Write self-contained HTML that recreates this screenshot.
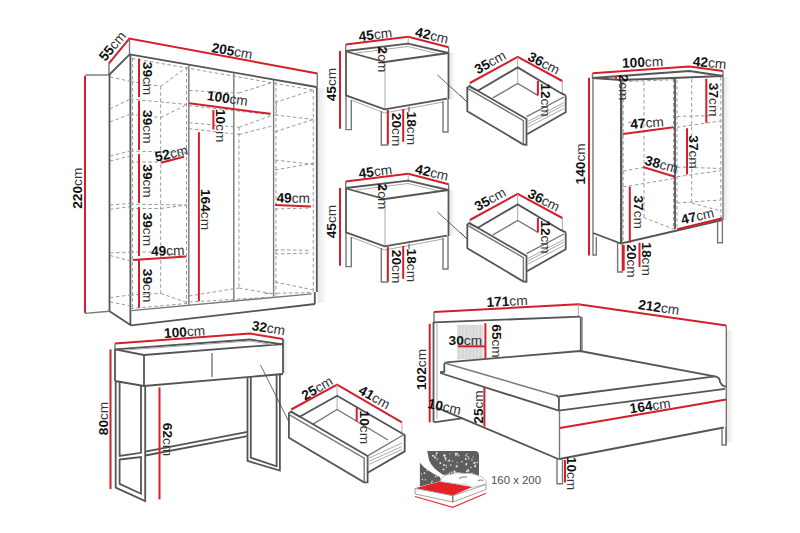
<!DOCTYPE html>
<html><head><meta charset="utf-8"><style>
html,body{margin:0;padding:0;background:#fff;}
svg{display:block;}
text{font-family:"Liberation Sans",sans-serif;fill:#1a1a1a;}
.b{font-weight:bold;fill:#111;}
.u{fill:#333;}
.g{stroke:#777;stroke-width:1.4;fill:none;}
.k{stroke:#555;stroke-width:1.8;fill:none;}
.l{stroke:#aaa;stroke-width:1;fill:none;}
.d{stroke:#9a9a9a;stroke-width:1;fill:none;stroke-dasharray:3.5 2.5;}
.t{stroke:#444;stroke-width:0.8;fill:none;}
.r{stroke:#d41f2b;stroke-width:2;fill:none;}
.r2{stroke:#d41f2b;stroke-width:2.8;fill:none;}
.k2{stroke:#555;stroke-width:2.4;fill:none;}
</style></head><body>
<svg width="800" height="533" viewBox="0 0 800 533">
<defs><linearGradient id="sh" x1="0" y1="0" x2="1" y2="0"><stop offset="0" stop-color="#000" stop-opacity="0.1"/><stop offset="1" stop-color="#000" stop-opacity="0"/></linearGradient></defs>
<rect x="317.5" y="88" width="9" height="215" fill="url(#sh)"/>
<rect x="449.5" y="53" width="6" height="46" fill="url(#sh)"/>
<rect x="449.5" y="190" width="6" height="46" fill="url(#sh)"/>
<rect x="727" y="330" width="7" height="112" fill="url(#sh)"/>
<rect x="723.5" y="77" width="6" height="143" fill="url(#sh)"/>
<rect x="283.5" y="340" width="5" height="34" fill="url(#sh)"/>
<line x1="85" y1="76" x2="85" y2="313" class="r"/>
<line x1="85" y1="75" x2="109" y2="75" class="g"/>
<line x1="85" y1="313.4" x2="109.5" y2="311.3" class="g"/>
<polyline points="109,63.4 129.3,38.5 317.5,73.5" class="r"/>
<line x1="109" y1="63" x2="109" y2="75" class="g"/>
<line x1="129.5" y1="39" x2="129.5" y2="54.4" class="g"/>
<line x1="317.3" y1="73.5" x2="317.3" y2="87" class="g"/>
<line x1="129.7" y1="54.4" x2="316.5" y2="87" class="k"/>
<line x1="109" y1="75" x2="129.7" y2="54.4" class="k"/>
<line x1="109.5" y1="75" x2="109.5" y2="311.3" class="k"/>
<line x1="130.4" y1="54.4" x2="130.4" y2="325.4" class="k"/>
<line x1="316.8" y1="87" x2="316.8" y2="292" class="k"/>
<line x1="109.5" y1="311.3" x2="131.3" y2="325.4" class="k"/>
<line x1="131.3" y1="325.4" x2="315" y2="304" class="k"/>
<line x1="131.5" y1="310.6" x2="311.7" y2="293.9" class="g"/>
<line x1="314.8" y1="292" x2="314.8" y2="304" class="k"/>
<line x1="188.8" y1="65" x2="188.8" y2="305.4" class="g"/>
<line x1="233.8" y1="73" x2="233.8" y2="301.2" class="g"/>
<line x1="273.6" y1="80" x2="273.6" y2="297.5" class="g"/>
<line x1="132" y1="58.4" x2="313" y2="90" class="d"/>
<line x1="132.6" y1="58" x2="132.6" y2="310" class="d"/>
<line x1="160.7" y1="86.3" x2="160.7" y2="294" class="d"/>
<line x1="186.5" y1="67" x2="186.5" y2="304" class="d"/>
<line x1="276" y1="82" x2="276" y2="297" class="d"/>
<line x1="313.3" y1="90" x2="313.3" y2="293" class="d"/>
<line x1="239" y1="127.3" x2="239" y2="289" class="d"/>
<line x1="110" y1="77" x2="130.3" y2="81.3" class="d"/>
<line x1="130.3" y1="81.3" x2="160.7" y2="86.3" class="d"/>
<line x1="160.7" y1="86.3" x2="187" y2="67" class="d"/>
<line x1="110" y1="109" x2="130.3" y2="99" class="d"/>
<line x1="110" y1="122" x2="130.3" y2="114" class="d"/>
<line x1="130.3" y1="99" x2="187" y2="104.5" class="d"/>
<line x1="130.3" y1="114.2" x2="160.7" y2="117.6" class="d"/>
<line x1="160.7" y1="117.6" x2="187" y2="104.5" class="d"/>
<line x1="110" y1="156" x2="130.3" y2="151" class="d"/>
<line x1="110" y1="161" x2="130.3" y2="156" class="d"/>
<line x1="130.3" y1="151" x2="187" y2="152.5" class="d"/>
<line x1="130.3" y1="162" x2="160.7" y2="162" class="d"/>
<line x1="160.7" y1="162" x2="187" y2="153" class="d"/>
<line x1="110" y1="209.3" x2="130.3" y2="206.7" class="d"/>
<line x1="110" y1="205" x2="130.3" y2="203.5" class="d"/>
<line x1="130.3" y1="204.2" x2="187" y2="205" class="d"/>
<line x1="130.3" y1="208.5" x2="160.7" y2="208.5" class="d"/>
<line x1="160.7" y1="208.5" x2="187" y2="205" class="d"/>
<line x1="110" y1="253" x2="130.3" y2="252" class="d"/>
<line x1="110" y1="255.5" x2="130.3" y2="261" class="d"/>
<line x1="130.3" y1="252" x2="160.7" y2="252" class="d"/>
<line x1="160.7" y1="252" x2="187" y2="257" class="d"/>
<line x1="110" y1="297.6" x2="130.3" y2="295" class="d"/>
<line x1="110" y1="301.8" x2="130.3" y2="306" class="d"/>
<line x1="130.3" y1="308.6" x2="187" y2="303.5" class="d"/>
<line x1="130.3" y1="295" x2="160.7" y2="293.4" class="d"/>
<line x1="160.7" y1="293.4" x2="187" y2="302.7" class="d"/>
<line x1="189" y1="90.5" x2="239" y2="93" class="d"/>
<line x1="239" y1="93" x2="272" y2="82.6" class="d"/>
<line x1="189" y1="105.6" x2="272" y2="114.8" class="d"/>
<line x1="189" y1="122.7" x2="239" y2="127.3" class="d"/>
<line x1="239" y1="127.3" x2="272" y2="115.5" class="d"/>
<line x1="189" y1="128.6" x2="239" y2="134.5" class="d"/>
<line x1="239" y1="134.5" x2="272" y2="126" class="d"/>
<line x1="189" y1="296" x2="239" y2="288" class="d"/>
<line x1="239" y1="288" x2="274" y2="294" class="d"/>
<line x1="189" y1="302" x2="274" y2="297" class="d"/>
<line x1="275" y1="102.5" x2="313.4" y2="90.1" class="d"/>
<line x1="275" y1="115" x2="313.4" y2="119.4" class="d"/>
<line x1="275" y1="131.8" x2="313.4" y2="119.4" class="d"/>
<line x1="275" y1="160" x2="313.4" y2="164.5" class="d"/>
<line x1="275" y1="170" x2="313.4" y2="163.3" class="d"/>
<line x1="275" y1="209" x2="311" y2="208" class="d"/>
<line x1="275" y1="249.7" x2="311" y2="250.4" class="d"/>
<line x1="275" y1="254" x2="311" y2="253" class="d"/>
<line x1="275" y1="282" x2="313.4" y2="290" class="d"/>
<line x1="265" y1="293.6" x2="313" y2="292.5" class="d"/>
<line x1="276.3" y1="102.5" x2="276.3" y2="113.8" class="d"/>
<line x1="139" y1="58.5" x2="139" y2="97" class="r"/>
<line x1="139" y1="100.7" x2="139" y2="150" class="r"/>
<line x1="139" y1="154" x2="139" y2="203" class="r"/>
<line x1="139" y1="207" x2="139" y2="256" class="r"/>
<line x1="139" y1="260" x2="139" y2="307.8" class="r"/>
<line x1="161" y1="162.8" x2="184" y2="156.7" class="r"/>
<line x1="133" y1="260" x2="186" y2="256.5" class="r"/>
<line x1="275" y1="205" x2="311" y2="206.5" class="r"/>
<line x1="189.2" y1="103.3" x2="270.6" y2="113.8" class="r"/>
<line x1="213.4" y1="110" x2="213.4" y2="129.6" class="r"/>
<line x1="198.9" y1="132.2" x2="198.9" y2="301.2" class="r"/>
<text transform="translate(112.2,46) rotate(-50)" y="4.93" font-size="13.7" text-anchor="middle"><tspan class="b">55</tspan><tspan class="u">cm</tspan></text>
<text transform="translate(232,50.7) rotate(10)" y="4.93" font-size="13.7" text-anchor="middle"><tspan class="b">205</tspan><tspan class="u">cm</tspan></text>
<text transform="translate(77.2,188.2) rotate(-90)" y="4.93" font-size="13.7" text-anchor="middle"><tspan class="b">220</tspan><tspan class="u">cm</tspan></text>
<text transform="translate(147.6,78.5) rotate(90)" y="4.93" font-size="13.7" text-anchor="middle"><tspan class="b">39</tspan><tspan class="u">cm</tspan></text>
<text transform="translate(147.6,126.8) rotate(90)" y="4.93" font-size="13.7" text-anchor="middle"><tspan class="b">39</tspan><tspan class="u">cm</tspan></text>
<text transform="translate(147.6,181) rotate(90)" y="4.93" font-size="13.7" text-anchor="middle"><tspan class="b">39</tspan><tspan class="u">cm</tspan></text>
<text transform="translate(147.6,229.3) rotate(90)" y="4.93" font-size="13.7" text-anchor="middle"><tspan class="b">39</tspan><tspan class="u">cm</tspan></text>
<text transform="translate(147.6,285.6) rotate(90)" y="4.93" font-size="13.7" text-anchor="middle"><tspan class="b">39</tspan><tspan class="u">cm</tspan></text>
<text transform="translate(171.3,153.2) rotate(-12.5)" y="4.93" font-size="13.7" text-anchor="middle"><tspan class="b">52</tspan><tspan class="u">cm</tspan></text>
<text transform="translate(227.5,98) rotate(8)" y="4.93" font-size="13.7" text-anchor="middle"><tspan class="b">100</tspan><tspan class="u">cm</tspan></text>
<text transform="translate(221,125.7) rotate(90)" y="4.93" font-size="13.7" text-anchor="middle"><tspan class="b">10</tspan><tspan class="u">cm</tspan></text>
<text transform="translate(206.2,209.5) rotate(90)" y="4.93" font-size="13.7" text-anchor="middle"><tspan class="b">164</tspan><tspan class="u">cm</tspan></text>
<text transform="translate(167.7,250.5) rotate(-2)" y="4.93" font-size="13.7" text-anchor="middle"><tspan class="b">49</tspan><tspan class="u">cm</tspan></text>
<text transform="translate(293.3,197.8) rotate(1)" y="4.93" font-size="13.7" text-anchor="middle"><tspan class="b">49</tspan><tspan class="u">cm</tspan></text>
<g transform="translate(0,0)">
<polyline points="345.7,44.5 408.2,36.7 448.7,47.2" class="r"/>
<line x1="345.7" y1="44.5" x2="345.7" y2="51" class="g"/>
<line x1="408.2" y1="36.7" x2="408.2" y2="43.7" class="l"/>
<line x1="448.7" y1="47.2" x2="448.7" y2="53" class="g"/>
<polyline points="346,51 408,43.7 448.5,53" class="k"/>
<polyline points="356,53 408,46.5 441,54.5" class="l"/>
<polyline points="346,51.5 385,62 448.5,53" class="k"/>
<line x1="346" y1="51" x2="346" y2="96" class="k"/>
<line x1="385" y1="62" x2="385" y2="109" class="l"/>
<line x1="448.5" y1="53" x2="448.5" y2="99" class="k"/>
<polyline points="346,95.4 384.6,109.3 447,98.7" class="k"/>
<polyline points="351,100 384.6,113 443,102" class="l"/>
<polyline points="346,96 346,129.6 351.3,129.6 351.3,100" class="g"/>
<polyline points="381.3,111 381.3,145 387.8,145 387.8,111" class="g"/>
<line x1="409" y1="106.8" x2="409" y2="111.7" class="g"/>
<polyline points="443,101 443,132 448,132 448,99" class="g"/>
<line x1="437.5" y1="75" x2="466" y2="101" class="t"/>
<line x1="340" y1="51" x2="340" y2="128.8" class="r"/>
<line x1="387.8" y1="110" x2="387.8" y2="144.2" class="r"/>
<line x1="403.2" y1="109" x2="403.2" y2="141.8" class="r"/>
<line x1="379.5" y1="49" x2="379.5" y2="53" class="r"/>
<text transform="translate(375.3,34.2) rotate(-7)" y="4.93" font-size="13.7" text-anchor="middle"><tspan class="b">45</tspan><tspan class="u">cm</tspan></text>
<text transform="translate(432,35.3) rotate(13)" y="4.93" font-size="13.7" text-anchor="middle"><tspan class="b">42</tspan><tspan class="u">cm</tspan></text>
<text transform="translate(331.5,84.6) rotate(-90)" y="4.93" font-size="13.7" text-anchor="middle"><tspan class="b">45</tspan><tspan class="u">cm</tspan></text>
<text transform="translate(383,59.5) rotate(90)" y="4.93" font-size="13.7" text-anchor="middle"><tspan class="b">2</tspan><tspan class="u">cm</tspan></text>
<text transform="translate(397.2,129.6) rotate(90)" y="4.93" font-size="13.7" text-anchor="middle"><tspan class="b">20</tspan><tspan class="u">cm</tspan></text>
<text transform="translate(412,128.3) rotate(90)" y="4.93" font-size="13.7" text-anchor="middle"><tspan class="b">18</tspan><tspan class="u">cm</tspan></text>
</g>
<g transform="translate(0,137)">
<polyline points="345.7,44.5 408.2,36.7 448.7,47.2" class="r"/>
<line x1="345.7" y1="44.5" x2="345.7" y2="51" class="g"/>
<line x1="408.2" y1="36.7" x2="408.2" y2="43.7" class="l"/>
<line x1="448.7" y1="47.2" x2="448.7" y2="53" class="g"/>
<polyline points="346,51 408,43.7 448.5,53" class="k"/>
<polyline points="356,53 408,46.5 441,54.5" class="l"/>
<polyline points="346,51.5 385,62 448.5,53" class="k"/>
<line x1="346" y1="51" x2="346" y2="96" class="k"/>
<line x1="385" y1="62" x2="385" y2="109" class="l"/>
<line x1="448.5" y1="53" x2="448.5" y2="99" class="k"/>
<polyline points="346,95.4 384.6,109.3 447,98.7" class="k"/>
<polyline points="351,100 384.6,113 443,102" class="l"/>
<polyline points="346,96 346,129.6 351.3,129.6 351.3,100" class="g"/>
<polyline points="381.3,111 381.3,145 387.8,145 387.8,111" class="g"/>
<line x1="409" y1="106.8" x2="409" y2="111.7" class="g"/>
<polyline points="443,101 443,132 448,132 448,99" class="g"/>
<line x1="437.5" y1="75" x2="466" y2="101" class="t"/>
<line x1="340" y1="51" x2="340" y2="128.8" class="r"/>
<line x1="387.8" y1="110" x2="387.8" y2="144.2" class="r"/>
<line x1="403.2" y1="109" x2="403.2" y2="141.8" class="r"/>
<line x1="379.5" y1="49" x2="379.5" y2="53" class="r"/>
<text transform="translate(375.3,34.2) rotate(-7)" y="4.93" font-size="13.7" text-anchor="middle"><tspan class="b">45</tspan><tspan class="u">cm</tspan></text>
<text transform="translate(432,35.3) rotate(13)" y="4.93" font-size="13.7" text-anchor="middle"><tspan class="b">42</tspan><tspan class="u">cm</tspan></text>
<text transform="translate(331.5,84.6) rotate(-90)" y="4.93" font-size="13.7" text-anchor="middle"><tspan class="b">45</tspan><tspan class="u">cm</tspan></text>
<text transform="translate(383,59.5) rotate(90)" y="4.93" font-size="13.7" text-anchor="middle"><tspan class="b">2</tspan><tspan class="u">cm</tspan></text>
<text transform="translate(397.2,129.6) rotate(90)" y="4.93" font-size="13.7" text-anchor="middle"><tspan class="b">20</tspan><tspan class="u">cm</tspan></text>
<text transform="translate(412,128.3) rotate(90)" y="4.93" font-size="13.7" text-anchor="middle"><tspan class="b">18</tspan><tspan class="u">cm</tspan></text>
</g>
<g transform="translate(0,0)">
<polyline points="469.9,83 517.7,56.8 562.3,81" class="r"/>
<line x1="517.7" y1="57" x2="517.7" y2="83.5" class="l"/>
<line x1="562.3" y1="81" x2="562.3" y2="93" class="l"/>
<polyline points="470,87 477.8,90.8 517.7,67.4 560.6,92.9 565.7,95.4" class="k"/>
<line x1="469.9" y1="83" x2="469.9" y2="87" class="l"/>
<polyline points="492.9,97.8 517.7,83.5 537.9,95.4" class="g"/>
<polygon points="467.3,87.4 469.5,86 526.5,119 526.5,144.8 523.4,144.5 467.3,111.2" class="k"/>
<polyline points="468,88.6 523.4,120.6 523.4,144" class="g"/>
<polyline points="565.7,95.4 565.7,112.3 527,134.2" class="k"/>
<line x1="526.5" y1="116.7" x2="564" y2="97" class="g"/>
<line x1="527" y1="122" x2="564" y2="102.5" class="l"/>
<line x1="527" y1="127.5" x2="564" y2="108.5" class="l"/>
<line x1="527" y1="124.5" x2="564" y2="105" class="l"/>
<line x1="460" y1="95" x2="467" y2="102" class="t"/>
<line x1="537.9" y1="81" x2="537.9" y2="95.4" class="r"/>
<text transform="translate(490,62) rotate(-29)" y="4.93" font-size="13.7" text-anchor="middle"><tspan class="b">35</tspan><tspan class="u">cm</tspan></text>
<text transform="translate(544,63) rotate(27)" y="4.93" font-size="13.7" text-anchor="middle"><tspan class="b">36</tspan><tspan class="u">cm</tspan></text>
<text transform="translate(546.4,100) rotate(90)" y="4.93" font-size="13.7" text-anchor="middle"><tspan class="b">12</tspan><tspan class="u">cm</tspan></text>
</g>
<g transform="translate(0,137)">
<polyline points="469.9,83 517.7,56.8 562.3,81" class="r"/>
<line x1="517.7" y1="57" x2="517.7" y2="83.5" class="l"/>
<line x1="562.3" y1="81" x2="562.3" y2="93" class="l"/>
<polyline points="470,87 477.8,90.8 517.7,67.4 560.6,92.9 565.7,95.4" class="k"/>
<line x1="469.9" y1="83" x2="469.9" y2="87" class="l"/>
<polyline points="492.9,97.8 517.7,83.5 537.9,95.4" class="g"/>
<polygon points="467.3,87.4 469.5,86 526.5,119 526.5,144.8 523.4,144.5 467.3,111.2" class="k"/>
<polyline points="468,88.6 523.4,120.6 523.4,144" class="g"/>
<polyline points="565.7,95.4 565.7,112.3 527,134.2" class="k"/>
<line x1="526.5" y1="116.7" x2="564" y2="97" class="g"/>
<line x1="527" y1="122" x2="564" y2="102.5" class="l"/>
<line x1="527" y1="127.5" x2="564" y2="108.5" class="l"/>
<line x1="527" y1="124.5" x2="564" y2="105" class="l"/>
<line x1="460" y1="95" x2="467" y2="102" class="t"/>
<line x1="537.9" y1="81" x2="537.9" y2="95.4" class="r"/>
<text transform="translate(490,62) rotate(-29)" y="4.93" font-size="13.7" text-anchor="middle"><tspan class="b">35</tspan><tspan class="u">cm</tspan></text>
<text transform="translate(544,63) rotate(27)" y="4.93" font-size="13.7" text-anchor="middle"><tspan class="b">36</tspan><tspan class="u">cm</tspan></text>
<text transform="translate(546.4,100) rotate(90)" y="4.93" font-size="13.7" text-anchor="middle"><tspan class="b">12</tspan><tspan class="u">cm</tspan></text>
</g>
<polyline points="592.5,73.2 689.4,66.4 723,70.9" class="r"/>
<line x1="592.5" y1="73.2" x2="592.5" y2="78" class="g"/>
<line x1="723" y1="71" x2="723" y2="76" class="g"/>
<polyline points="592.5,78 689.4,71 723,76" class="k"/>
<line x1="592.5" y1="78" x2="621" y2="80" class="k"/>
<line x1="621" y1="80" x2="723" y2="76" class="k"/>
<line x1="589" y1="77.7" x2="589" y2="255.4" class="r"/>
<line x1="593" y1="78" x2="593" y2="234" class="g"/>
<line x1="621.2" y1="80" x2="621.2" y2="243" class="k2"/>
<line x1="675" y1="78" x2="675" y2="229" class="k"/>
<line x1="723" y1="76" x2="723" y2="220" class="g"/>
<line x1="623.2" y1="81" x2="623.2" y2="242" class="d"/>
<line x1="644" y1="82" x2="644" y2="217.4" class="d"/>
<line x1="673.5" y1="79" x2="673.5" y2="229" class="d"/>
<line x1="623.2" y1="81.6" x2="673.5" y2="79.8" class="d"/>
<line x1="623" y1="171" x2="643.5" y2="167.5" class="d"/>
<line x1="623" y1="187" x2="675.6" y2="178.2" class="d"/>
<line x1="643.5" y1="217.4" x2="675.6" y2="229.9" class="d"/>
<line x1="628" y1="122.3" x2="640" y2="122" class="d"/>
<line x1="677" y1="80" x2="677" y2="228" class="d"/>
<line x1="691.7" y1="79" x2="691.7" y2="203" class="d"/>
<line x1="720.8" y1="77" x2="720.8" y2="219" class="d"/>
<line x1="677" y1="116.4" x2="720.8" y2="115.5" class="d"/>
<line x1="677" y1="127.3" x2="720.8" y2="121" class="d"/>
<line x1="677" y1="167" x2="720.8" y2="168.5" class="d"/>
<line x1="677" y1="176.8" x2="720.8" y2="170.6" class="d"/>
<line x1="677" y1="203" x2="720.8" y2="200" class="d"/>
<line x1="691.7" y1="203" x2="720.8" y2="211" class="d"/>
<polyline points="593,233 621,243.5 722.4,220" class="k"/>
<polyline points="593,234 593,255 596.3,255 596.3,237" class="g"/>
<polyline points="617.6,243 617.6,272 622.4,272 622.4,243" class="g"/>
<polyline points="717.6,221 717.6,242.7 722.4,242.7 722.4,220" class="g"/>
<line x1="623" y1="134" x2="673.6" y2="127.2" class="r"/>
<line x1="706.3" y1="78.8" x2="706.3" y2="122.7" class="r"/>
<line x1="687" y1="128.3" x2="687" y2="174.4" class="r"/>
<line x1="643" y1="167" x2="675" y2="176.8" class="r"/>
<line x1="629.8" y1="186.6" x2="629.8" y2="242.7" class="r"/>
<line x1="677.3" y1="229.3" x2="722.4" y2="218.3" class="r"/>
<line x1="623.3" y1="245" x2="623.3" y2="270.7" class="r2"/>
<line x1="639.5" y1="242.7" x2="639.5" y2="267" class="r"/>
<line x1="616" y1="76" x2="616" y2="80" class="r"/>
<text transform="translate(642.6,62) rotate(-2)" y="4.93" font-size="13.7" text-anchor="middle"><tspan class="b">100</tspan><tspan class="u">cm</tspan></text>
<text transform="translate(709.6,62.5) rotate(5)" y="4.93" font-size="13.7" text-anchor="middle"><tspan class="b">42</tspan><tspan class="u">cm</tspan></text>
<text transform="translate(580.2,163.9) rotate(-90)" y="4.93" font-size="13.7" text-anchor="middle"><tspan class="b">140</tspan><tspan class="u">cm</tspan></text>
<text transform="translate(623.5,87.5) rotate(90)" y="4.93" font-size="13.7" text-anchor="middle"><tspan class="b">2</tspan><tspan class="u">cm</tspan></text>
<text transform="translate(647,122.7) rotate(-5)" y="4.93" font-size="13.7" text-anchor="middle"><tspan class="b">47</tspan><tspan class="u">cm</tspan></text>
<text transform="translate(714,99.6) rotate(90)" y="4.93" font-size="13.7" text-anchor="middle"><tspan class="b">37</tspan><tspan class="u">cm</tspan></text>
<text transform="translate(694,152) rotate(90)" y="4.93" font-size="13.7" text-anchor="middle"><tspan class="b">37</tspan><tspan class="u">cm</tspan></text>
<text transform="translate(661.5,164) rotate(15)" y="4.93" font-size="13.7" text-anchor="middle"><tspan class="b">38</tspan><tspan class="u">cm</tspan></text>
<text transform="translate(638.9,212.2) rotate(90)" y="4.93" font-size="13.7" text-anchor="middle"><tspan class="b">37</tspan><tspan class="u">cm</tspan></text>
<text transform="translate(697.5,215.8) rotate(-13)" y="4.93" font-size="13.7" text-anchor="middle"><tspan class="b">47</tspan><tspan class="u">cm</tspan></text>
<text transform="translate(631.6,261) rotate(90)" y="4.93" font-size="13.7" text-anchor="middle"><tspan class="b">20</tspan><tspan class="u">cm</tspan></text>
<text transform="translate(647.3,259.1) rotate(90)" y="4.93" font-size="13.7" text-anchor="middle"><tspan class="b">18</tspan><tspan class="u">cm</tspan></text>
<polyline points="115,343.6 250.1,333.6 282.9,338.9" class="r"/>
<line x1="115" y1="343.6" x2="115" y2="349.4" class="g"/>
<polyline points="115,349.4 250,339.5 283,344.5" class="k"/>
<polyline points="115,349.4 144,355 283,344" class="k"/>
<polyline points="125,350 250,341 275,345" class="l"/>
<line x1="115" y1="349" x2="115" y2="381" class="k"/>
<line x1="144" y1="355" x2="144" y2="386" class="k"/>
<line x1="283" y1="339" x2="283" y2="373" class="k"/>
<polyline points="115,381 144,386 283,374" class="k"/>
<line x1="212" y1="353" x2="212" y2="377" class="g"/>
<polyline points="115.7,381 115.7,487.6 145.2,501 145.2,386" class="k"/>
<polyline points="119.6,382 119.6,455.9 141,452.8 141,386" class="k"/>
<polygon points="119.6,459.5 141,457 141,493.7 119.6,483.9" class="k"/>
<polyline points="247.5,377 247.5,460.9 279.9,470.6 279.9,373.5" class="k"/>
<polyline points="250.8,377 250.8,457.7 276.6,466.3 276.6,374" class="k"/>
<line x1="145.2" y1="451.6" x2="247.5" y2="431.8" class="k"/>
<line x1="145.2" y1="455.5" x2="247.5" y2="436.1" class="k"/>
<line x1="260.5" y1="365" x2="289.6" y2="423.2" class="t"/>
<line x1="110.5" y1="349.4" x2="110.5" y2="489" class="r"/>
<line x1="159.5" y1="387.4" x2="159.5" y2="499.4" class="r"/>
<text transform="translate(184.5,331.6) rotate(-4)" y="4.93" font-size="13.7" text-anchor="middle"><tspan class="b">100</tspan><tspan class="u">cm</tspan></text>
<text transform="translate(268.5,327.7) rotate(9)" y="4.93" font-size="13.7" text-anchor="middle"><tspan class="b">32</tspan><tspan class="u">cm</tspan></text>
<text transform="translate(103.2,418.5) rotate(-90)" y="4.93" font-size="13.7" text-anchor="middle"><tspan class="b">80</tspan><tspan class="u">cm</tspan></text>
<text transform="translate(168.3,439.5) rotate(90)" y="4.93" font-size="13.7" text-anchor="middle"><tspan class="b">62</tspan><tspan class="u">cm</tspan></text>
<polyline points="291.2,409.5 337.1,384.6 401.9,422.3" class="r"/>
<line x1="337.1" y1="384.6" x2="337.1" y2="409.5" class="l"/>
<line x1="401.9" y1="422.3" x2="401.9" y2="432.2" class="l"/>
<polyline points="291.5,412 299.7,416.7 337.1,395.8 400,432.2 404.9,435" class="k"/>
<line x1="291.2" y1="409.5" x2="291.2" y2="412" class="l"/>
<polyline points="312.2,424.6 337.1,409.5 388,440" class="g"/>
<polygon points="288.9,413.4 291.2,411.5 367.6,456 367.6,482.3 364,482.3 288.9,437.7" class="k"/>
<polyline points="289.5,414.8 364.2,458.2 364.2,481.5" class="g"/>
<polyline points="404.7,434.5 404.7,451.4 367.6,472.7" class="k"/>
<line x1="367.6" y1="455.9" x2="404.1" y2="434.5" class="g"/>
<line x1="367.5" y1="458.7" x2="402" y2="443" class="l"/>
<line x1="367.5" y1="462" x2="402" y2="446.5" class="l"/>
<line x1="367.5" y1="465" x2="402" y2="449.5" class="l"/>
<line x1="356.7" y1="407.6" x2="356.7" y2="421.3" class="r"/>
<text transform="translate(317,388) rotate(-30)" y="4.93" font-size="13.7" text-anchor="middle"><tspan class="b">25</tspan><tspan class="u">cm</tspan></text>
<text transform="translate(374.5,397) rotate(30)" y="4.93" font-size="13.7" text-anchor="middle"><tspan class="b">41</tspan><tspan class="u">cm</tspan></text>
<text transform="translate(364.5,427.3) rotate(90)" y="4.93" font-size="13.7" text-anchor="middle"><tspan class="b">10</tspan><tspan class="u">cm</tspan></text>
<polyline points="433.9,312 578.3,304.2 726.3,325.4" class="r"/>
<line x1="434" y1="312" x2="434" y2="322" class="g"/>
<line x1="578.3" y1="304.2" x2="578.3" y2="317" class="l"/>
<line x1="429.7" y1="323.8" x2="429.7" y2="422.3" class="r"/>
<line x1="434" y1="322.4" x2="580.3" y2="316.7" class="k"/>
<line x1="433.5" y1="322" x2="433.5" y2="422" class="k"/>
<line x1="437" y1="324" x2="437" y2="419" class="l"/>
<line x1="580.8" y1="316.7" x2="580.8" y2="351" class="k"/>
<line x1="582.3" y1="317" x2="582.3" y2="351" stroke="#999" stroke-width="1.2"/>
<line x1="433.6" y1="422.3" x2="463.1" y2="418.1" class="k"/>
<rect x="457" y="324.8" width="26.3" height="34.6" fill="#dedede"/>
<line x1="459.5" y1="325" x2="459.5" y2="359" stroke="#cfcfcf" stroke-width="0.8"/>
<line x1="463" y1="325" x2="463" y2="359" stroke="#cfcfcf" stroke-width="0.8"/>
<line x1="466.5" y1="325" x2="466.5" y2="359" stroke="#cfcfcf" stroke-width="0.8"/>
<line x1="470" y1="325" x2="470" y2="359" stroke="#cfcfcf" stroke-width="0.8"/>
<line x1="473.5" y1="325" x2="473.5" y2="359" stroke="#cfcfcf" stroke-width="0.8"/>
<line x1="477" y1="325" x2="477" y2="359" stroke="#cfcfcf" stroke-width="0.8"/>
<line x1="480.5" y1="325" x2="480.5" y2="359" stroke="#cfcfcf" stroke-width="0.8"/>
<line x1="485.4" y1="323.2" x2="485.4" y2="358.4" class="r"/>
<line x1="457.8" y1="346.3" x2="485.4" y2="346.3" class="r"/>
<line x1="726.3" y1="325.4" x2="726.3" y2="445" class="g"/>
<polyline points="446.5,362.3 580,351 716,376.6" class="k"/>
<path d="M716,376.6 Q720,378 720,382 L722,385 L726,387" class="k"/>
<path d="M446.5,362.3 Q444.3,362.6 444.3,365 L444.3,371.8 L440.2,372" class="k"/>
<polyline points="446.2,363.5 556,395.5" class="g"/>
<path d="M556,395.5 Q559,396 559,400 L558.8,410.7" class="k"/>
<polyline points="559,396.5 715,376.3" class="k"/>
<polyline points="440.2,373 558.8,410.7 725,388.8" class="k"/>
<line x1="559.5" y1="411" x2="559.5" y2="458.8" class="g"/>
<line x1="437.3" y1="407.8" x2="559.5" y2="459.5" class="k"/>
<line x1="559.5" y1="459" x2="723.8" y2="427.5" class="k"/>
<line x1="484.4" y1="387.6" x2="484.4" y2="426.6" class="r"/>
<line x1="560" y1="428" x2="726.3" y2="399.5" class="r"/>
<polyline points="557,459 557,483.8 562.5,483.8 562.5,460" class="g"/>
<polyline points="722,428 722,445 726,445 726,427" class="g"/>
<line x1="565" y1="460" x2="565" y2="482.5" class="r"/>
<text transform="translate(507,301) rotate(-3)" y="4.93" font-size="13.7" text-anchor="middle"><tspan class="b">171</tspan><tspan class="u">cm</tspan></text>
<text transform="translate(658.8,307) rotate(8)" y="4.93" font-size="13.7" text-anchor="middle"><tspan class="b">212</tspan><tspan class="u">cm</tspan></text>
<text transform="translate(421.2,369.5) rotate(-90)" y="4.93" font-size="13.7" text-anchor="middle"><tspan class="b">102</tspan><tspan class="u">cm</tspan></text>
<text transform="translate(465.3,340) rotate(0)" y="4.93" font-size="13.7" text-anchor="middle"><tspan class="b">30</tspan><tspan class="u">cm</tspan></text>
<text transform="translate(497,341) rotate(90)" y="4.93" font-size="13.7" text-anchor="middle"><tspan class="b">65</tspan><tspan class="u">cm</tspan></text>
<text transform="translate(444.5,406.5) rotate(12)" y="4.93" font-size="13.7" text-anchor="middle"><tspan class="b">10</tspan><tspan class="u">cm</tspan></text>
<text transform="translate(477.7,407) rotate(-90)" y="4.93" font-size="13.7" text-anchor="middle"><tspan class="b">25</tspan><tspan class="u">cm</tspan></text>
<text transform="translate(650,405.6) rotate(-8)" y="4.93" font-size="13.7" text-anchor="middle"><tspan class="b">164</tspan><tspan class="u">cm</tspan></text>
<text transform="translate(571.7,473.5) rotate(90)" y="4.93" font-size="13.7" text-anchor="middle"><tspan class="b">10</tspan><tspan class="u">cm</tspan></text>
<path d="M427.2,451.1 L474.8,451.1 Q479,451.1 479,455.5 L479,475.5 L443,474.8 Q432,468 429,460 Z" fill="#5e5e5e"/>
<path d="M419.9,462.7 Q426,470.5 440,477 L441,481 L419.9,486.5 Z" fill="#5e5e5e"/>
<circle cx="444.7" cy="455.7" r="1.0" fill="#e0e0e0"/>
<circle cx="473.1" cy="457.1" r="0.6" fill="#e0e0e0"/>
<circle cx="450.0" cy="454.0" r="0.6" fill="#e0e0e0"/>
<circle cx="455.7" cy="453.8" r="1.0" fill="#e0e0e0"/>
<circle cx="435.0" cy="457.3" r="1.0" fill="#e0e0e0"/>
<circle cx="457.3" cy="453.8" r="1.0" fill="#e0e0e0"/>
<circle cx="448.2" cy="473.5" r="0.6" fill="#e0e0e0"/>
<circle cx="456.0" cy="455.4" r="0.8" fill="#e0e0e0"/>
<circle cx="436.0" cy="455.0" r="0.8" fill="#e0e0e0"/>
<circle cx="456.2" cy="467.2" r="0.6" fill="#e0e0e0"/>
<circle cx="457.2" cy="466.2" r="0.8" fill="#e0e0e0"/>
<circle cx="456.4" cy="465.8" r="0.8" fill="#e0e0e0"/>
<circle cx="462.0" cy="461.7" r="0.8" fill="#e0e0e0"/>
<circle cx="451.6" cy="472.4" r="0.8" fill="#e0e0e0"/>
<circle cx="443.5" cy="469.6" r="1.0" fill="#e0e0e0"/>
<circle cx="466.8" cy="454.3" r="0.8" fill="#e0e0e0"/>
<circle cx="454.5" cy="471.3" r="1.0" fill="#e0e0e0"/>
<circle cx="450.8" cy="465.6" r="0.6" fill="#e0e0e0"/>
<circle cx="465.7" cy="455.8" r="0.8" fill="#e0e0e0"/>
<circle cx="449.5" cy="473.2" r="0.6" fill="#e0e0e0"/>
<circle cx="466.1" cy="464.8" r="0.8" fill="#e0e0e0"/>
<circle cx="445.5" cy="460.0" r="0.8" fill="#e0e0e0"/>
<circle cx="457.1" cy="462.3" r="0.6" fill="#e0e0e0"/>
<circle cx="474.8" cy="462.7" r="1.0" fill="#e0e0e0"/>
<circle cx="444.0" cy="464.9" r="1.0" fill="#e0e0e0"/>
<circle cx="468.9" cy="458.6" r="0.8" fill="#e0e0e0"/>
<circle cx="472.0" cy="460.0" r="0.8" fill="#e0e0e0"/>
<circle cx="446.2" cy="465.6" r="0.8" fill="#e0e0e0"/>
<circle cx="435.3" cy="457.8" r="0.8" fill="#e0e0e0"/>
<circle cx="473.5" cy="463.2" r="0.6" fill="#e0e0e0"/>
<circle cx="450.8" cy="464.3" r="0.6" fill="#e0e0e0"/>
<circle cx="468.7" cy="471.1" r="0.8" fill="#e0e0e0"/>
<circle cx="463.3" cy="473.7" r="1.0" fill="#e0e0e0"/>
<circle cx="471.9" cy="473.1" r="0.6" fill="#e0e0e0"/>
<circle cx="433.0" cy="455.8" r="1.0" fill="#e0e0e0"/>
<circle cx="440.3" cy="462.9" r="1.0" fill="#e0e0e0"/>
<circle cx="437.8" cy="458.6" r="0.6" fill="#e0e0e0"/>
<circle cx="449.3" cy="460.4" r="1.0" fill="#e0e0e0"/>
<circle cx="444.5" cy="455.2" r="1.0" fill="#e0e0e0"/>
<circle cx="475.1" cy="466.6" r="1.0" fill="#e0e0e0"/>
<circle cx="466.8" cy="471.3" r="1.0" fill="#e0e0e0"/>
<circle cx="448.0" cy="461.1" r="0.6" fill="#e0e0e0"/>
<circle cx="452.4" cy="461.1" r="0.6" fill="#e0e0e0"/>
<circle cx="436.9" cy="459.8" r="0.6" fill="#e0e0e0"/>
<circle cx="455.0" cy="472.9" r="1.0" fill="#e0e0e0"/>
<circle cx="458.8" cy="455.7" r="0.8" fill="#e0e0e0"/>
<circle cx="475.3" cy="465.4" r="0.8" fill="#e0e0e0"/>
<circle cx="477.2" cy="462.5" r="0.8" fill="#e0e0e0"/>
<circle cx="444.1" cy="455.6" r="1.0" fill="#e0e0e0"/>
<circle cx="445.6" cy="458.2" r="1.0" fill="#e0e0e0"/>
<circle cx="436.8" cy="453.0" r="1.0" fill="#e0e0e0"/>
<circle cx="446.5" cy="467.3" r="0.6" fill="#e0e0e0"/>
<circle cx="465.8" cy="458.9" r="1.0" fill="#e0e0e0"/>
<circle cx="470.9" cy="467.5" r="0.8" fill="#e0e0e0"/>
<circle cx="454.1" cy="472.0" r="0.8" fill="#e0e0e0"/>
<circle cx="466.4" cy="464.0" r="1.0" fill="#e0e0e0"/>
<circle cx="445.0" cy="457.3" r="0.6" fill="#e0e0e0"/>
<circle cx="468.1" cy="470.1" r="1.0" fill="#e0e0e0"/>
<circle cx="468.0" cy="456.8" r="0.8" fill="#e0e0e0"/>
<circle cx="427.0" cy="470.4" r="0.7" fill="#e0e0e0"/>
<circle cx="421.5" cy="473.9" r="0.7" fill="#e0e0e0"/>
<circle cx="425.4" cy="479.7" r="0.7" fill="#e0e0e0"/>
<circle cx="437.3" cy="476.3" r="0.7" fill="#e0e0e0"/>
<circle cx="436.9" cy="483.8" r="0.7" fill="#e0e0e0"/>
<circle cx="437.2" cy="475.1" r="0.7" fill="#e0e0e0"/>
<circle cx="424.7" cy="473.2" r="0.7" fill="#e0e0e0"/>
<circle cx="424.3" cy="472.9" r="0.7" fill="#e0e0e0"/>
<circle cx="431.6" cy="482.6" r="0.7" fill="#e0e0e0"/>
<circle cx="435.3" cy="476.7" r="0.7" fill="#e0e0e0"/>
<circle cx="432.1" cy="481.2" r="0.7" fill="#e0e0e0"/>
<circle cx="422.4" cy="479.2" r="0.7" fill="#e0e0e0"/>
<path d="M415,488.3 L440,481.6 L472.3,487 L452.8,495.5 Z" fill="#e52228"/>
<path d="M440,481.5 Q443,474 452,474 Q457,471.5 463,473.5 Q470,472 478,475.5 Q486,478 486.5,484 L472.3,487.3 Q466,483 458,484 Z" fill="#fff" stroke="#aaa" stroke-width="0.7"/>
<path d="M459,478.5 Q463,476 467,477 M478,480.5 Q481,479.5 483,480.5" stroke="#777" stroke-width="1" fill="none"/>
<path d="M415,488.3 L452.8,495.8 L486,484.5 L486,489.5 L452.8,502 L415,494 Z" fill="#fff" stroke="#8a8a8a" stroke-width="0.8"/>
<line x1="452.8" y1="495.8" x2="452.8" y2="502" class="g"/>
<polyline points="415,496.5 452.8,507.3 486,493.2" fill="none" stroke="#e0303a" stroke-width="1.1"/>
<text x="491" y="483.9" font-size="11.4" style="fill:#505050">160 x 200</text>
</svg>
</body></html>
